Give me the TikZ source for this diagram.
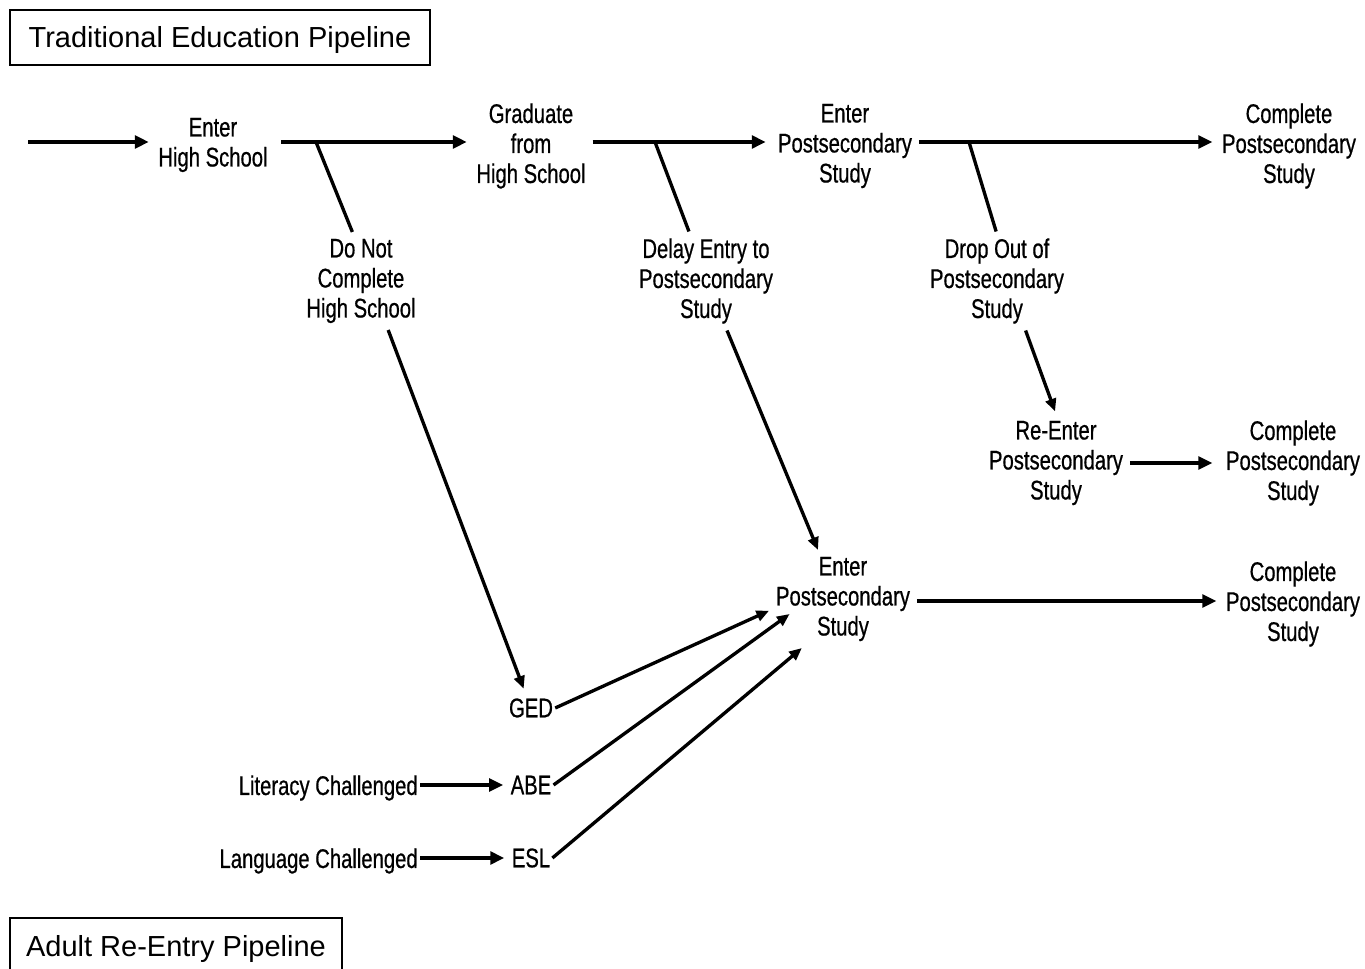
\documentclass[tikz,border=0pt]{standalone}
\usepackage{fontspec}
\setmainfont{Liberation Sans}
\newfontfamily\narrowfont{Liberation Sans}[FakeStretch=0.75,FakeBold=0.6]
\usepackage{tikz}
\usetikzlibrary{arrows.meta}

\tikzset{
  lbl/.style={align=center, inner sep=5pt, font=\narrowfont\fontsize{20.25}{22.5}\selectfont},
  small/.style={lbl, inner sep=1.5pt},
  titlebox/.style={draw, line width=1.5pt, inner sep=0pt, text height=15.6pt, text depth=0pt,
    font=\fontsize{21.75}{24}\selectfont},
  flow/.style={line width=2.8pt, shorten >=2pt, -{Triangle[length=10.5pt,width=9.5pt]}},
  branch/.style={line width=2.5pt},
  feed/.style={line width=2.5pt, -{Triangle[length=9.5pt,width=8pt]}},
}

\begin{document}
\begin{tikzpicture}[x=0.75pt,y=0.75pt,yscale=-1,xscale=1]
        \useasboundingbox (0,0) rectangle (1365,969);

        % Title boxes
        \node[titlebox, minimum width=315pt, minimum height=41.25pt] (trad) at (220,37.5) {Traditional Education Pipeline};
        \node[titlebox, minimum width=249pt, minimum height=42.75pt] (adult) at (176,946.5) {Adult Re-Entry Pipeline};

        % Text Node -- top row
        \coordinate (in) at (28,142);
        \node[lbl] (ehs) at (213,145) {Enter\\High School};
        \node[lbl] (grad) at (531,146) {Graduate\\from\\High School};
        \node[lbl] (enter1) at (845,146) {Enter\\Postsecondary\\Study};
        \node[lbl] (comp1) at (1289,146) {Complete\\Postsecondary\\Study};

        % Text Node -- leaving the pipeline
        \node[lbl] (dnc) at (361,281) {Do Not\\Complete\\High School};
        \node[lbl] (delay) at (706,281) {Delay Entry to\\Postsecondary\\Study};
        \node[lbl] (drop) at (997,281) {Drop Out of\\Postsecondary\\Study};

        % Text Node -- re-entry
        \node[lbl] (reenter) at (1056,463) {Re-Enter\\Postsecondary\\Study};
        \node[lbl] (comp2) at (1293,463) {Complete\\Postsecondary\\Study};
        \node[lbl] (enter2) at (843,599) {Enter\\Postsecondary\\Study};
        \node[lbl] (comp3) at (1293,604) {Complete\\Postsecondary\\Study};
        \coordinate (row3) at (1100,601);

        % Text Node -- adult programs
        \node[small] (ged) at (531,708) {GED};
        \node[small] (abe) at (531,785) {ABE};
        \node[small] (esl) at (531,858) {ESL};
        \node[small, anchor=east] (lit) at (420,788) {Literacy Challenged};
        \node[small, anchor=east] (lang) at (420,861) {Language Challenged};

        % Straight Lines -- main pipeline
        \draw[flow] (in) -- (ehs.west |- in);
        \draw[flow, shorten <=5pt] (ehs.east |- in) -- (grad.west |- in);
        \draw[flow, shorten >=4pt] (grad.east |- in) -- (enter1.west |- in);
        \draw[flow] (enter1.east |- in) -- (comp1.west |- in);
        \draw[flow, shorten >=5pt] (reenter.east) -- (comp2.west);
        \draw[flow] (enter2.east |- row3) -- (comp3.west |- row3);

        % Branch points on the pipeline
        \coordinate (s1) at (316,142);
        \coordinate (s2) at (655,142);
        \coordinate (s3) at (969,142);
        \draw[branch] (s1) -- (dnc.100);
        \draw[branch] (s2) -- (delay.109);
        \draw[branch] (s3) -- (drop.91);

        % Straight Lines -- back into study
        \draw[feed, shorten >=6pt] (dnc.-61) -- (ged);
        \draw[feed] (delay.-67) -- (enter2.117);
        \draw[feed, shorten >=2pt] (drop.-60) -- (reenter.north);
        \draw[feed] (ged.east) -- (enter2.189);
        \draw[feed, shorten >=-19pt] (abe.east) -- (enter2.202);
        \draw[feed] (esl.east) -- (enter2.230);
        \draw[flow, shorten >=4pt] (lit.east |- abe) -- (abe);
        \draw[flow, shorten >=4pt] (lang.east |- esl) -- (esl);

\end{tikzpicture}
\end{document}
